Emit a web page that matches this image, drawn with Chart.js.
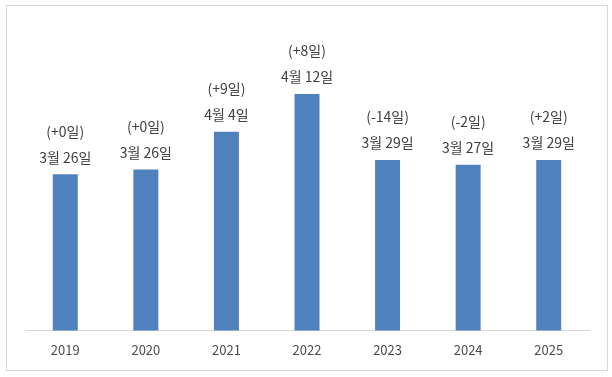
<!DOCTYPE html>
<html>
<head>
<meta charset="utf-8">
<script src="https://cdn.jsdelivr.net/npm/chart.js@4"></script>
<style>
  html, body { margin: 0; padding: 0; background: #fff; }
  #wrap { position: relative; width: 612px; height: 377px; }
  #frame { position: absolute; left: 6px; top: 5px; width: 600px; height: 364px; border: 1px solid #d9d9d9; pointer-events: none; }
</style>
</head>
<body>
<div id="wrap">
  <canvas id="chart" width="612" height="377"></canvas>
  <div id="frame"></div>
</div>
<script>
// 연도별 날짜 (일자 = 1월 1일부터의 날짜 수)
const years = ['2019', '2020', '2021', '2022', '2023', '2024', '2025'];
const dayOfYear = [85, 86, 94, 102, 88, 87, 88];
const dateLabels = ['3월 26일', '3월 26일', '4월 4일', '4월 12일', '3월 29일', '3월 27일', '3월 29일'];
const deltaLabels = ['(+0일)', '(+0일)', '(+9일)', '(+8일)', '(-14일)', '(-2일)', '(+2일)'];

const FONT = '"Noto Sans CJK KR", "Noto Sans", sans-serif';

// 막대 위에 두 줄 라벨 그리기
const barLabels = {
    id: 'barLabels',
    afterDatasetsDraw(chart) {
        const ctx = chart.ctx;
        const meta = chart.getDatasetMeta(0);
        ctx.save();
        ctx.fillStyle = '#404040';
        ctx.font = '14px ' + FONT;
        ctx.textAlign = 'center';
        ctx.textBaseline = 'middle';
        meta.data.forEach((bar, i) => {
            ctx.fillText(dateLabels[i], bar.x, bar.y - 17);
            ctx.fillText(deltaLabels[i], bar.x, bar.y - 43);
        });
        ctx.restore();
    }
};

new Chart(document.getElementById('chart'), {
    type: 'bar',
    data: {
        labels: years,
        datasets: [{
            data: dayOfYear,
            backgroundColor: '#4f81bd',
            borderWidth: 0,
            barPercentage: 0.31,
            categoryPercentage: 1
        }]
    },
    options: {
        responsive: false,
        animation: false,
        events: [],
        layout: { padding: { left: 25, right: 23, top: 28, bottom: 7 } },
        plugins: {
            legend: { display: false },
            tooltip: { enabled: false }
        },
        scales: {
            x: {
                grid: { display: false, drawTicks: false },
                border: { display: true, color: '#d9d9d9', width: 1 },
                ticks: {
                    color: '#4d4d4d',
                    padding: 12,
                    font: { size: 13, family: FONT }
                }
            },
            y: {
                display: false,
                min: 51.9,
                max: 116
            }
        }
    },
    plugins: [barLabels]
});
</script>
</body>
</html>
